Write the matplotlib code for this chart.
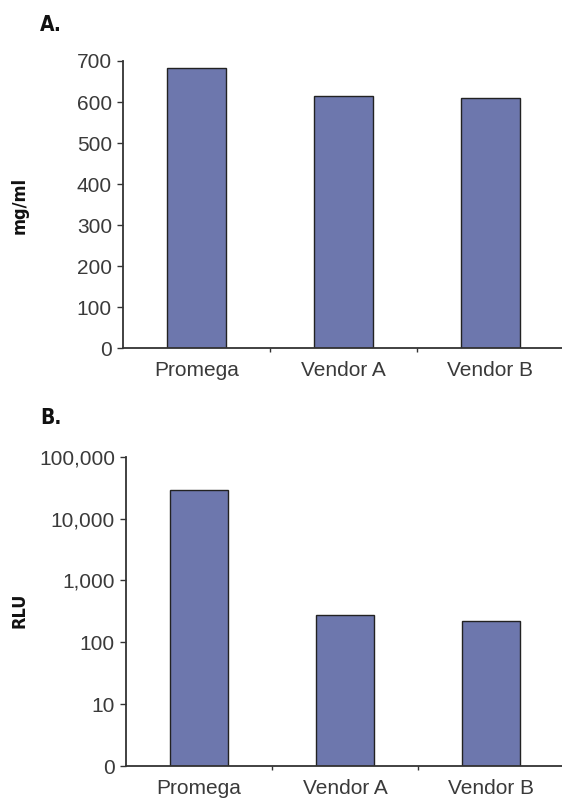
import matplotlib
matplotlib.use("Agg")
import matplotlib.pyplot as plt
from matplotlib.ticker import FixedLocator, FixedFormatter

# data
categories = ["Promega", "Vendor A", "Vendor B"]
conc_mg_ml = [682, 615, 610]          # panel A
rlu = [28700, 272, 217]               # panel B (log scale)

a_ticks = [0, 100, 200, 300, 400, 500, 600, 700]
b_ticks = [1, 10, 100, 1000, 10000, 100000]
b_labels = ["0", "10", "100", "1,000", "10,000", "100,000"]

bar_color = "#6d77ad"
ink = "#333333"
tick_family = ["Liberation Sans", "DejaVu Sans"]
bold_family = ["DejaVu Sans"]

W, H = 562, 799
fig = plt.figure(figsize=(W / 100, H / 100), dpi=100)


def make_axes(left, top, right, bottom):
    return fig.add_axes([left / W, 1 - bottom / H, (right - left) / W, (bottom - top) / H])


def style(ax):
    ax.spines["top"].set_visible(False)
    ax.spines["right"].set_visible(False)
    for s in ("left", "bottom"):
        ax.spines[s].set_color(ink)
        ax.spines[s].set_linewidth(1.3)
    x = range(len(categories))
    ax.set_xlim(-0.5, 2.5)
    ax.set_xticks(list(x))
    ax.set_xticklabels(categories)
    ax.xaxis.set_minor_locator(FixedLocator([0.5, 1.5]))
    ax.tick_params(axis="x", which="major", length=0, pad=9, labelsize=15, labelcolor="#3a3a3a")
    ax.tick_params(axis="x", which="minor", length=3, width=1, color=ink, direction="out")
    ax.tick_params(axis="y", which="both", length=4, width=1, color=ink, labelsize=15,
                   labelcolor="#3a3a3a", pad=4)
    for lab in ax.get_xticklabels() + ax.get_yticklabels():
        lab.set_family(tick_family)


def bold_text(x, y, s, size, rot=0):
    fig.text(x / W, 1 - y / H, s, rotation=rot, ha="center", va="center",
             fontsize=size, fontweight="bold", fontstretch="condensed",
             family=bold_family, color="#111111")


# ---- panel A
ax1 = make_axes(123, 61, 564, 348.3)
ax1.bar(range(len(categories)), conc_mg_ml, width=0.4, color=bar_color,
        edgecolor="#222222", linewidth=1)
ax1.set_ylim(0, 700)
ax1.set_yticks(a_ticks)
style(ax1)
bold_text(20, 205, "mg/ml", 13, rot=90)
bold_text(51, 25, "A.", 15)

# ---- panel B
ax2 = make_axes(126, 456.7, 564, 766)
ax2.bar(range(len(categories)), rlu, width=0.4, color=bar_color,
        edgecolor="#222222", linewidth=1, bottom=1)
ax2.set_yscale("log")
ax2.set_ylim(1, 100000)
ax2.yaxis.set_major_locator(FixedLocator(b_ticks))
ax2.yaxis.set_major_formatter(FixedFormatter(b_labels))
ax2.yaxis.set_minor_locator(FixedLocator([]))
style(ax2)
bold_text(20, 610, "RLU", 13, rot=90)
bold_text(51, 418, "B.", 15)

fig.savefig("out.png", dpi=100)
